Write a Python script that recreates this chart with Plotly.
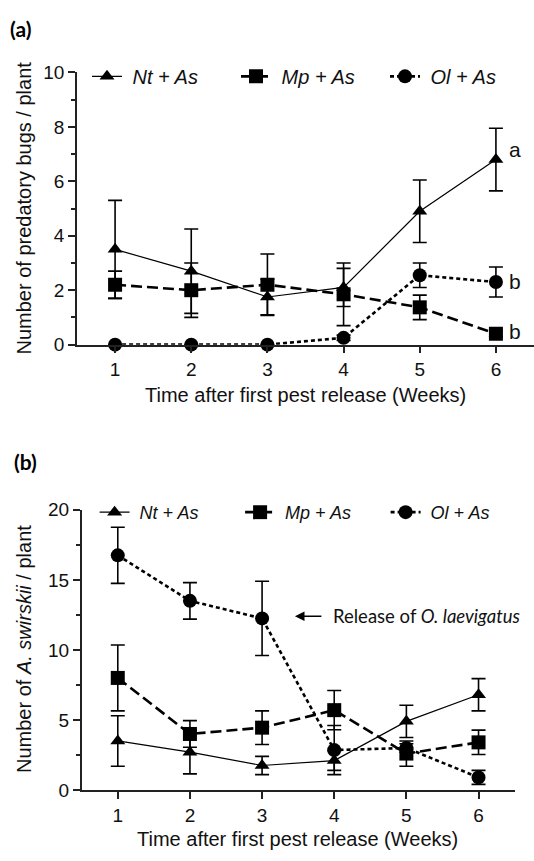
import plotly.graph_objects as go

weeks = [1, 2, 3, 4, 5, 6]

# Panel (a): number of predatory bugs / plant
a_nt = [3.5, 2.7, 1.75, 2.1, 4.9, 6.8]
a_nt_se = [1.8, 1.55, 0.65, 0.7, 1.15, 1.15]
a_mp = [2.2, 2.0, 2.2, 1.85, 1.37, 0.4]
a_mp_se = [0.5, 1.0, 1.13, 1.15, 0.45, 0.1]
a_ol = [0.0, 0.0, 0.0, 0.25, 2.55, 2.3]
a_ol_se = [0.0, 0.0, 0.0, 0.1, 0.45, 0.55]

# Panel (b): number of A. swirskii / plant
b_nt = [3.5, 2.7, 1.75, 2.1, 4.9, 6.8]
b_nt_se = [1.8, 1.55, 0.65, 0.7, 1.15, 1.15]
b_mp = [8.0, 4.0, 4.45, 5.7, 2.6, 3.4]
b_mp_se = [2.35, 0.95, 1.2, 1.4, 0.9, 0.87]
b_ol = [16.75, 13.5, 12.25, 2.85, 3.0, 0.9]
b_ol_se = [2.0, 1.3, 2.65, 1.75, 0.3, 0.5]

names = ["\u00a0<i>Nt + As</i>", "\u00a0<i>Mp + As</i>", "\u00a0<i>Ol + As</i>"]
sig_letters = ["a", "b", "b"]
sig_y = [7.17, 2.33, 0.5]

W, H = 534, 861
ARIAL = "Liberation Sans, Arial, sans-serif"
CALIBRI = "Lato, Carlito, sans-serif"

styles = [
    dict(symbol="triangle-up", size=13, dash="solid", width=1.2),
    dict(symbol="square", size=14, dash="11px,5px", width=2.6),
    dict(symbol="circle", size=14, dash="4px,3px", width=2.6),
]

fig = go.Figure()

def add_series(ys, ses, xa, ya, legend):
    for i, (y, se) in enumerate(zip(ys, ses)):
        st = styles[i]
        fig.add_trace(go.Scatter(
            x=weeks, y=y, name=names[i], mode="lines+markers",
            xaxis=xa, yaxis=ya, legend=legend,
            line=dict(color="black", width=st["width"], dash=st["dash"]),
            marker=dict(symbol=st["symbol"], size=st["size"], color="black"),
            error_y=dict(type="data", array=se, visible=True, color="black",
                         thickness=1.6, width=7),
            cliponaxis=False,
        ))

add_series([a_nt, a_mp, a_ol], [a_nt_se, a_mp_se, a_ol_se], "x", "y", "legend")
add_series([b_nt, b_mp, b_ol], [b_nt_se, b_mp_se, b_ol_se], "x2", "y2", "legend2")

def px_x(p):
    return p / W

def px_y(p):
    return 1 - p / H

axis_common = dict(
    showline=True, linecolor="#222", linewidth=1.5, ticks="outside",
    ticklen=7, tickwidth=1.5, tickcolor="#222", showgrid=False, zeroline=False,
    tickfont=dict(family=ARIAL, size=19, color="#111"),
)

fig.update_layout(
    width=W, height=H, margin=dict(l=0, r=0, t=0, b=0),
    plot_bgcolor="white", paper_bgcolor="white",
    xaxis=dict(domain=[px_x(77), 1.0], range=[0.5, 6.5], anchor="y",
               tickvals=weeks, **axis_common),
    yaxis=dict(domain=[px_y(343), px_y(64)], range=[0, 10], anchor="x",
               tickvals=[0, 2, 4, 6, 8, 10],
               minor=dict(tickvals=[1, 3, 5, 7, 9], ticks="outside", ticklen=4,
                          tickwidth=1.5, tickcolor="#222"),
               **axis_common),
    xaxis2=dict(domain=[px_x(81.7), px_x(514.6)], range=[0.5, 6.5], anchor="y2",
                tickvals=weeks, **axis_common),
    yaxis2=dict(domain=[px_y(799.5), px_y(512.3)], range=[0, 20], anchor="x2",
                tickvals=[0, 5, 10, 15, 20],
                minor=dict(tickvals=[2.5, 7.5, 12.5, 17.5], ticks="outside", ticklen=4,
                           tickwidth=1.5, tickcolor="#222"),
                **axis_common),
    legend=dict(orientation="h", x=px_x(87), y=px_y(68), xanchor="left", yanchor="middle",
                font=dict(family=ARIAL, size=20, color="#111"),
                entrywidth=104, entrywidthmode="pixels", itemwidth=30,
                bgcolor="rgba(0,0,0,0)", traceorder="normal"),
    legend2=dict(orientation="h", x=px_x(94.6), y=px_y(515), xanchor="left", yanchor="middle",
                 font=dict(family=ARIAL, size=18, color="#111"),
                 entrywidth=100.5, entrywidthmode="pixels", itemwidth=30,
                 bgcolor="rgba(0,0,0,0)", traceorder="normal"),
    showlegend=True,
)

ann = []
# Panel labels
ann.append(dict(text="<b>(a)</b>", x=px_x(8), y=px_y(19), xref="paper", yref="paper",
                xanchor="left", yanchor="middle", showarrow=False,
                font=dict(family=CALIBRI, size=21, color="black")))
ann.append(dict(text="<b>(b)</b>", x=px_x(12), y=px_y(463), xref="paper", yref="paper",
                xanchor="left", yanchor="middle", showarrow=False,
                font=dict(family=CALIBRI, size=21, color="black")))
# Axis titles
ann.append(dict(text="Number of predatory bugs / plant", x=px_x(24), y=px_y(203.5),
                xref="paper", yref="paper", textangle=-90, showarrow=False,
                xanchor="center", yanchor="middle",
                font=dict(family=ARIAL, size=20, color="#111")))
ann.append(dict(text="Time after first pest release (Weeks)", x=px_x(305), y=px_y(395),
                xref="paper", yref="paper", showarrow=False,
                xanchor="center", yanchor="middle",
                font=dict(family=ARIAL, size=20, color="#111")))
ann.append(dict(text="Number of <i>A. swirskii</i> / plant", x=px_x(24), y=px_y(655),
                xref="paper", yref="paper", textangle=-90, showarrow=False,
                xanchor="center", yanchor="middle",
                font=dict(family=ARIAL, size=20, color="#111")))
ann.append(dict(text="Time after first pest release (Weeks)", x=px_x(297), y=px_y(850),
                xref="paper", yref="paper", showarrow=False,
                xanchor="center", yanchor="middle",
                font=dict(family=ARIAL, size=20, color="#111")))
# Significance letters
for letter, yv in zip(sig_letters, sig_y):
    ann.append(dict(text=letter, x=6.25, y=yv, xref="x", yref="y", showarrow=False,
                    xanchor="center", yanchor="middle",
                    font=dict(family=ARIAL, size=21, color="#111")))
# Release arrow
ann.append(dict(text="", x=3.455, y=12.4, xref="x2", yref="y2", ax=28, ay=0,
                axref="pixel", ayref="pixel", showarrow=True, arrowhead=2,
                arrowsize=1.2, arrowwidth=1.6, arrowcolor="black"))
ann.append(dict(text="Release of <i>O. laevigatus</i>", x=3.96, y=12.4, xref="x2", yref="y2",
                showarrow=False, xanchor="left", yanchor="middle",
                font=dict(family=CALIBRI, size=18.5, color="#111")))

fig.update_layout(annotations=ann)

fig.write_html("out.html")
